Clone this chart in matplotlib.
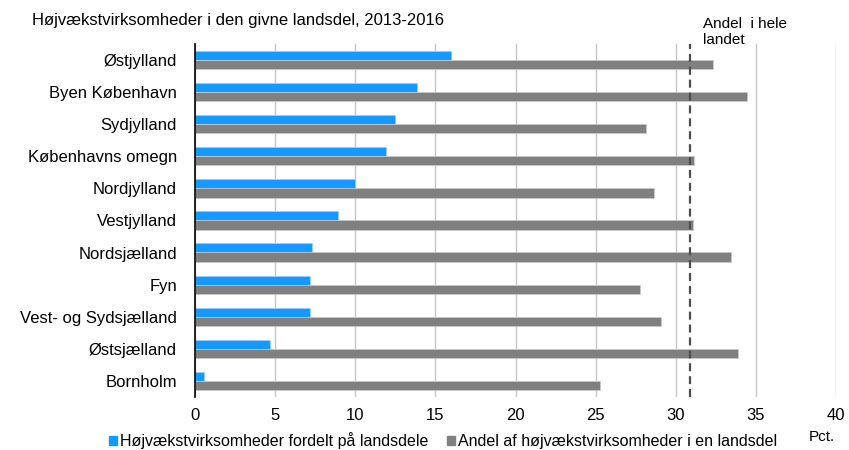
import matplotlib
matplotlib.use("Agg")
import matplotlib.pyplot as plt
from matplotlib.patches import Patch
import numpy as np

plt.rcParams['font.family'] = ['Liberation Sans', 'DejaVu Sans']

categories = ["Østjylland", "Byen København", "Sydjylland", "Københavns omegn",
              "Nordjylland", "Vestjylland", "Nordsjælland", "Fyn",
              "Vest- og Sydsjælland", "Østsjælland", "Bornholm"]
fordelt = [16.0, 13.85, 12.45, 11.9, 10.0, 8.95, 7.3, 7.2, 7.2, 4.65, 0.55]
andel = [32.3, 34.45, 28.15, 31.15, 28.65, 31.05, 33.45, 27.75, 29.05, 33.9, 25.25]
hele_landet = 30.9
xticks = [0, 5, 10, 15, 20, 25, 30, 35, 40]

blue = "#1499FF"
gray = "#808080"

fig = plt.figure(figsize=(8.49, 4.5), dpi=100)
ax = fig.add_axes([195/849, 1-397/450, (836-195)/849, (397-44)/450])

y = np.arange(len(categories))
h = 0.29
ax.barh(y - 0.14, fordelt, height=h, color=blue, edgecolor="#9CCFFF", linewidth=0.6, zorder=3)
ax.barh(y + 0.14, andel, height=h, color=gray, edgecolor="#C8C8C8", linewidth=0.6, zorder=3)
ax.axvline(hele_landet, color="#4D4D4D", lw=1.6, linestyle=(0, (3.6, 2.2)), zorder=4)

ax.set_xlim(0, 40)
ax.set_ylim(len(categories) - 0.5, -0.5)
ax.set_xticks(xticks)
ax.set_xticklabels([str(t) for t in xticks])
ax.set_yticks(y)
ax.set_yticklabels(categories)
ax.tick_params(axis='y', length=0, pad=13, labelsize=12)
ax.tick_params(axis='x', length=0, pad=8, labelsize=12)
ax.grid(axis='x', color="#C6C6C6", lw=1.0, zorder=0)
ax.set_axisbelow(True)
for s in ['top', 'right', 'bottom']:
    ax.spines[s].set_visible(False)
ax.spines['left'].set_color('black')
ax.spines['left'].set_linewidth(1.2)
ax.spines['left'].set_zorder(5)

fig.text(32/849, 1-21/450, "Højvækstvirksomheder i den givne landsdel, 2013-2016",
         fontsize=12, va='center', ha='left')
fig.text(703/849, 1-17/450, "Andel  i hele\nlandet", fontsize=11, va='top', ha='left',
         linespacing=1.15)
fig.text(809/849, 1-437/450, "Pct.", fontsize=11, va='center', ha='left')

handles = [Patch(color=blue, label="Højvækstvirksomheder fordelt på landsdele"),
           Patch(color=gray, label="Andel af højvækstvirksomheder i en landsdel")]
fig.legend(handles=handles, loc='center', bbox_to_anchor=(443/849, 1-441/450), ncol=2,
           frameon=False, fontsize=11.5, handlelength=0.5, handleheight=0.5,
           handletextpad=0.18, columnspacing=1.2, borderaxespad=0, borderpad=0)

fig.savefig("out.png", dpi=100)
